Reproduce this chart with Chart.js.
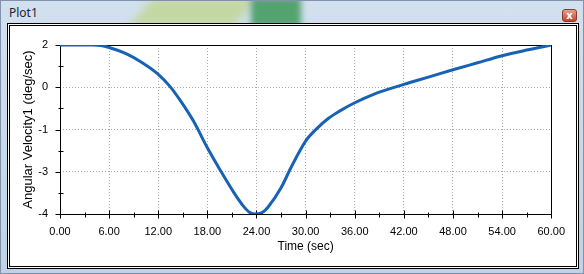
<!DOCTYPE html>
<html>
<head>
<meta charset="utf-8">
<script src="https://cdn.jsdelivr.net/npm/chart.js@4.4.1/dist/chart.umd.min.js"></script>
<style>
    body { margin: 0; width: 584px; height: 274px; overflow: hidden; font-family: "Liberation Sans", Arial, sans-serif; }
    #win { position: absolute; left: 0; top: 0; width: 584px; height: 274px; box-sizing: border-box;
           border: 1px solid #8193aa; background: linear-gradient(#d2e0ef, #bfd2e7); overflow: hidden; }
    .blur1 { position: absolute; left: 140px; top: -6px; width: 105px; height: 34px; background: #c2d79a;
             transform: skewX(-40deg); filter: blur(6px); opacity: 0.9; }
    .blur2 { position: absolute; left: 250px; top: -4px; width: 50px; height: 30px; background: #55a271; filter: blur(3px); }
    #title { position: absolute; left: 8px; top: 4px; font: 12px "Noto Sans", sans-serif; color: #1b2636; line-height: 16px; }
    #close { position: absolute; left: 561px; top: 8px; width: 15px; height: 13px; box-sizing: border-box;
             border: 1px solid #8a3a2c; border-radius: 3px; background: linear-gradient(#e8a08e, #c4452e);
             color: #fff; font: bold 10px "DejaVu Sans", sans-serif; text-align: center; line-height: 11px; }
    #panel { position: absolute; left: 6px; top: 22px; width: 572px; height: 246px; box-sizing: border-box;
             border: 3px double #000; background: #fff; }
    #box { position: relative; width: 566px; height: 240px; }
</style>
</head>
<body>
<div id="win">
    <div class="blur1"></div>
    <div class="blur2"></div>
    <div id="title">Plot1</div>
    <div id="close">x</div>
    <div id="panel"><div id="box"><canvas id="plot"></canvas></div></div>
</div>
<script>
// valeurs
const timeSec = [0, 2, 4, 5, 6, 8, 10, 12, 13.4, 14.6, 16.3, 18, 19.5, 21, 22.4, 23.2, 24, 24.8, 25.4, 27,
    28.2, 30, 31.4, 32.8, 34.3, 36, 38.3, 42, 45, 48, 51, 54, 57, 60];
const angVel = [2, 2, 2, 1.98, 1.91, 1.70, 1.38, 0.96, 0.54, 0.07, -0.70, -1.65, -2.41, -3.13, -3.72, -3.95, -4.0, -3.93, -3.76, -3.07,
    -2.36, -1.41, -0.96, -0.60, -0.32, -0.05, 0.25, 0.60, 0.86, 1.12, 1.37, 1.62, 1.82, 2.0];

const xTicks = [0, 6, 12, 18, 24, 30, 36, 42, 48, 54, 60];
const yTickValues = [-4, -2.5, -1, 0.5, 2];
const yTickLabels = ['-4', '-3', '-1', '0', '2'];

// cadre noir + graduations majeures / mineures
const axisFrame = {
    id: 'axisFrame',
    beforeDatasetsDraw(chart) {
        const { ctx, chartArea: a, scales: { x, y } } = chart;
        ctx.save();
        ctx.strokeStyle = '#000';
        ctx.lineWidth = 1;
        ctx.strokeRect(Math.round(a.left) + 0.5, Math.round(a.top) + 0.5,
            Math.round(a.right - a.left), Math.round(a.bottom - a.top));

        ctx.beginPath();
        const yb = Math.round(a.bottom) + 0.5;
        xTicks.forEach((v, i) => {
            const px = Math.round(x.getPixelForValue(v)) + 0.5;
            ctx.moveTo(px, yb - 4);
            ctx.lineTo(px, yb + 4);
            if (i < xTicks.length - 1) {
                const mx = Math.round(x.getPixelForValue((v + xTicks[i + 1]) / 2)) + 0.5;
                ctx.moveTo(mx, yb - 2);
                ctx.lineTo(mx, yb + 3);
            }
        });
        const xl = Math.round(a.left) + 0.5;
        yTickValues.forEach((v, i) => {
            const py = Math.round(y.getPixelForValue(v)) + 0.5;
            ctx.moveTo(xl - 5, py);
            ctx.lineTo(xl, py);
            if (i < yTickValues.length - 1) {
                const my = Math.round(y.getPixelForValue((v + yTickValues[i + 1]) / 2)) + 0.5;
                ctx.moveTo(xl - 2, my);
                ctx.lineTo(xl + 3, my);
            }
        });
        ctx.stroke();
        ctx.restore();
    }
};

const tickFont = { family: '"Liberation Sans", Arial, sans-serif', size: 11 };
const titleFont = { family: '"Liberation Sans", Arial, sans-serif', size: 12 };

new Chart(document.getElementById('plot'), {
    type: 'line',
    data: {
        datasets: [{
            data: timeSec.map((t, i) => ({ x: t, y: angVel[i] })),
            borderColor: '#1762b4',
            borderWidth: 3,
            pointRadius: 0,
            cubicInterpolationMode: 'monotone',
            fill: false
        }]
    },
    options: {
        responsive: true,
        maintainAspectRatio: false,
        animation: false,
        layout: { padding: { top: 19, right: 23, left: 0, bottom: 0 } },
        plugins: { legend: { display: false }, tooltip: { enabled: false } },
        scales: {
            x: {
                type: 'linear',
                min: 0,
                max: 60,
                afterBuildTicks: s => { s.ticks = xTicks.map(v => ({ value: v })); },
                afterFit: s => { s.height = 52; },
                ticks: {
                    callback: v => v.toFixed(2),
                    font: tickFont,
                    color: '#000',
                    padding: 11,
                    maxRotation: 0,
                    autoSkip: false
                },
                grid: { color: '#a8a8a8', drawTicks: false },
                border: { display: false, dash: [1, 2] },
                title: { display: true, text: 'Time (sec)', font: titleFont, color: '#000', padding: { top: 0, bottom: 12 } }
            },
            y: {
                min: -4,
                max: 2,
                afterBuildTicks: s => { s.ticks = yTickValues.map(v => ({ value: v })); },
                afterFit: s => { s.width = 50; },
                ticks: {
                    callback: (v, i) => yTickLabels[i],
                    font: tickFont,
                    color: '#000',
                    padding: 12,
                    autoSkip: false
                },
                grid: { color: '#a8a8a8', drawTicks: false },
                border: { display: false, dash: [1, 2] },
                title: {
                    display: true,
                    text: 'Angular Velocity1 (deg/sec)',
                    font: { family: titleFont.family, size: 13 },
                    color: '#000',
                    padding: { top: 11, bottom: 0 }
                }
            }
        }
    },
    plugins: [axisFrame]
});
</script>
</body>
</html>
